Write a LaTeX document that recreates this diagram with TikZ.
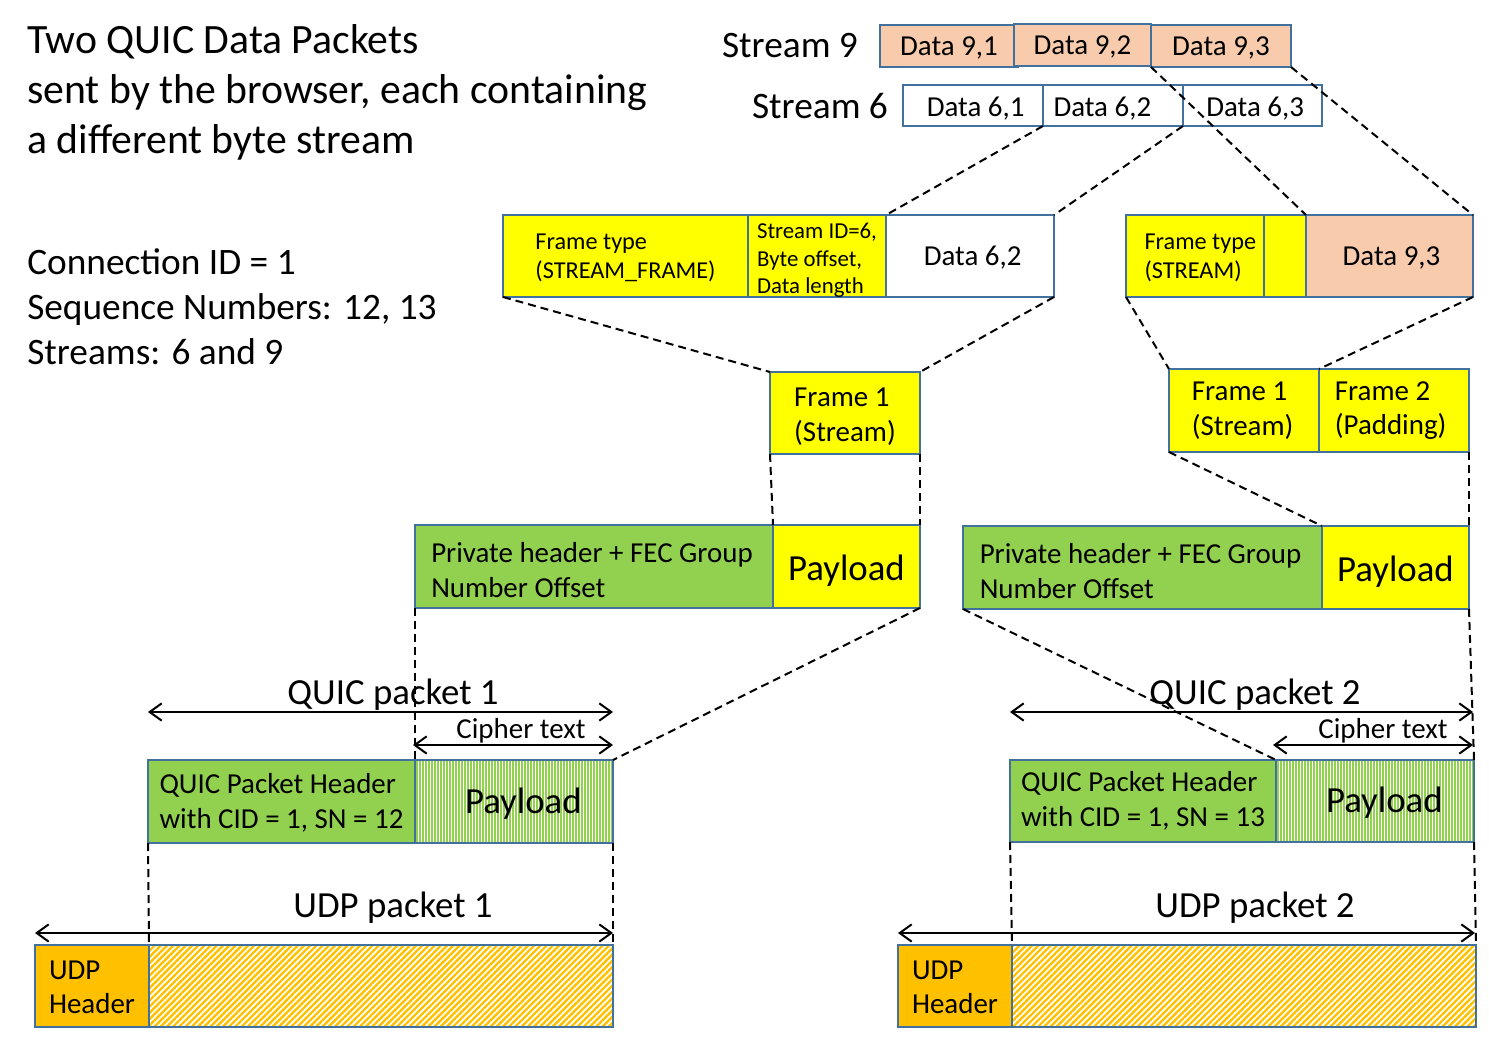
\documentclass[tikz,border=0pt]{standalone}
\usepackage{fontspec}
\setmainfont{Carlito}
\usetikzlibrary{arrows.meta,patterns.meta}
\definecolor{peach}{HTML}{F8CBAD}
\definecolor{qgreen}{HTML}{92D050}
\definecolor{qyellow}{HTML}{FFFF00}
\definecolor{qorange}{HTML}{FFC000}
\definecolor{edge}{HTML}{41719C}
\newcommand\sztitle{\fontsize{31.3pt}{37.5pt}\selectfont}
\newcommand\szbody{\fontsize{28pt}{33.75pt}\selectfont}
\newcommand\szbig{\fontsize{27.6pt}{33pt}\selectfont}
\newcommand\szmid{\fontsize{21.7pt}{26.1pt}\selectfont}
\newcommand\szsmall{\fontsize{18.2pt}{21.8pt}\selectfont}
\newcommand\sztiny{\fontsize{17.1pt}{20.7pt}\selectfont}
% \pbox{name}{x1}{y1}{x2}{y2}{box style}{text style}{text}
\newcommand\pbox[8]{%
  \node[pktbox,#6,minimum width={(#4-#2)*0.75pt},minimum height={(#5-#3)*0.75pt}] (#1) at ({(#2+#4)/2},{(#3+#5)/2}) {};
  \node[boxtext,#7] (#1t) at (#1.center) {#8};}
\tikzset{
  pktbox/.style={draw=edge, line width=0.8pt, inner sep=0pt, outer sep=0pt},
  boxtext/.style={inner sep=0pt, align=left, text=black},
  conn/.style={line width=1.5pt, dash pattern=on 6pt off 3.75pt},
  dimarrow/.style={line width=1.5pt, {Straight Barb[length=9pt,width=13pt]}-{Straight Barb[length=9pt,width=13pt]}},
  lbl/.style={inner sep=0pt, anchor=base},
  vstripe/.style={pattern={Lines[angle=90,distance=2.25pt,line width=1.25pt]}, pattern color=qgreen},
  dstripe/.style={pattern={Lines[angle=45,distance=3.3pt,line width=1.8pt]}, pattern color=qorange}
}
\begin{document}
\begin{tikzpicture}[x=0.75pt,y=-0.75pt]
\useasboundingbox (0,0) rectangle (1489,1038);

% left texts
\node[anchor=west, align=left, inner sep=0pt, font=\sztitle] (title) at (27,92)
  {Two QUIC Data Packets\\sent by the browser, each containing\\a different byte stream};
\node[anchor=west, align=left, inner sep=0pt, font=\szbody] (info) at (27,307)
  {Connection ID = 1\\Sequence Numbers: 12, 13\\Streams: 6 and 9};

% streams
\node[lbl, font=\szbody] (s9lbl) at (790,58) {Stream 9};
\node[lbl, font=\szbody] (s6lbl) at (820,119) {Stream 6};
\pbox{s9a}{880}{25}{1018}{67}{fill=peach}{font=\szmid,yshift=-1.5pt}{Data 9,1}
\pbox{s9b}{1014}{24}{1151}{66}{fill=peach}{font=\szmid,yshift=-1.5pt}{Data 9,2}
\pbox{s9c}{1151}{25}{1291}{67}{fill=peach}{font=\szmid,yshift=-1.5pt}{Data 9,3}
\pbox{s6a}{903}{85}{1043}{126}{fill=white}{font=\szmid,yshift=-2.2pt,xshift=2pt}{Data 6,1}
\pbox{s6b}{1043}{85}{1183}{126}{fill=white}{font=\szmid,yshift=-2.2pt,xshift=-8pt}{Data 6,2}
\pbox{s6c}{1183}{85}{1322}{126}{fill=white}{font=\szmid,yshift=-2.2pt,xshift=2pt}{Data 6,3}

% stream frames
\pbox{fl1}{503}{215}{748}{297}{fill=qyellow}{font=\szsmall,yshift=-1.5pt}{Frame type\\(STREAM\_FRAME)}
\pbox{fl2}{748}{215}{886}{297}{fill=qyellow}{font=\sztiny,yshift=-3.4pt}{Stream ID=6,\\Byte offset,\\Data length}
\pbox{fl3}{886}{215}{1054}{297}{fill=white}{font=\szmid,yshift=-1.5pt,xshift=2pt}{Data 6,2}
\pbox{fr1}{1126}{215}{1264}{297}{fill=qyellow}{font=\szsmall,yshift=-1.5pt,xshift=4pt}{Frame type\\(STREAM)}
\pbox{fr2}{1264}{215}{1306}{297}{fill=qyellow}{}{}
\pbox{fr3}{1306}{215}{1473}{297}{fill=peach}{font=\szmid,yshift=-1.5pt,xshift=1.5pt}{Data 9,3}

% frames in payload
\pbox{f1l}{770}{372}{920}{454}{fill=qyellow}{font=\szmid,yshift=-3pt}{Frame 1\\(Stream)}
\pbox{f1r}{1169}{369}{1319}{452}{fill=qyellow}{font=\szmid,xshift=-1pt}{Frame 1\\(Stream)}
\pbox{f2r}{1319}{369}{1469}{452}{fill=qyellow}{font=\szmid,xshift=-2.5pt}{Frame 2\\(Padding)}

% private header + payload
\pbox{phl}{415}{525}{773}{608}{fill=qgreen}{font=\szmid,yshift=-2.6pt,xshift=-1.5pt}{Private header + FEC Group\\Number Offset}
\pbox{pll}{773}{525}{920}{608}{fill=qyellow}{font=\szbig,yshift=-3pt}{Payload}
\pbox{phr}{963}{526}{1322}{609}{fill=qgreen}{font=\szmid,yshift=-2.6pt,xshift=-1.5pt}{Private header + FEC Group\\Number Offset}
\pbox{plr}{1322}{526}{1469}{609}{fill=qyellow}{font=\szbig,yshift=-3pt}{Payload}

% QUIC packets
\pbox{qhl}{148}{760}{415}{843}{fill=qgreen}{font=\szmid,yshift=-1.2pt}{QUIC Packet Header\\with CID = 1, SN = 12}
\pbox{qpl}{415}{760}{613}{843}{vstripe}{font=\szbig,yshift=-1.5pt,xshift=7pt}{Payload}
\pbox{qhr}{1010}{760}{1276}{842}{fill=qgreen}{font=\szmid}{QUIC Packet Header\\with CID = 1, SN = 13}
\pbox{qpr}{1276}{760}{1474}{842}{vstripe}{font=\szbig,yshift=-1.5pt,xshift=7pt}{Payload}

% UDP packets
\pbox{uhl}{35}{945}{149}{1027}{fill=qorange}{font=\szmid,yshift=-1pt}{UDP\\Header}
\pbox{upl}{149}{945}{613}{1027}{dstripe}{}{}
\pbox{uhr}{898}{945}{1012}{1027}{fill=qorange}{font=\szmid,yshift=-1pt}{UDP\\Header}
\pbox{upr}{1012}{945}{1476}{1027}{dstripe}{}{}

% labels
\node[lbl, font=\szbig] (q1lbl) at (393,704) {QUIC packet 1};
\node[lbl, font=\szmid] (c1lbl) at (521,738) {Cipher text};
\node[lbl, font=\szbig] (u1lbl) at (393,917) {UDP packet 1};
\node[lbl, font=\szbig] (q2lbl) at (1255,704) {QUIC packet 2};
\node[lbl, font=\szmid] (c2lbl) at (1383,738) {Cipher text};
\node[lbl, font=\szbig] (u2lbl) at (1255,917) {UDP packet 2};

% dimension arrows
\coordinate (q1a) at (148,712); \coordinate (q1b) at (613,712);
\coordinate (c1a) at (413,745); \coordinate (c1b) at (613,745);
\coordinate (u1a) at (35,933);  \coordinate (u1b) at (613,933);
\coordinate (q2a) at (1010,712); \coordinate (q2b) at (1473,712);
\coordinate (c2a) at (1273,745); \coordinate (c2b) at (1473,745);
\coordinate (u2a) at (898,933);  \coordinate (u2b) at (1475,933);
\draw[dimarrow] (q1a) -- (q1b);
\draw[dimarrow] (c1a) -- (c1b);
\draw[dimarrow] (u1a) -- (u1b);
\draw[dimarrow] (q2a) -- (q2b);
\draw[dimarrow] (c2a) -- (c2b);
\draw[dimarrow] (u2a) -- (u2b);

% dashed connectors
\draw[conn] (s6b.south west) -- (fl3.north west);
\draw[conn] (s6c.south west) -- (fl3.north east);
\draw[conn] (s9c.south west) -- (fr3.north west);
\draw[conn] (s9c.south east) -- (fr3.north east);
\draw[conn] (fl1.south west) -- (f1l.north west);
\draw[conn] (fl3.south east) -- (f1l.north east);
\draw[conn] (fr1.south west) -- (f1r.north west);
\draw[conn] (fr3.south east) -- (f2r.north west);
\draw[conn] (f1l.south west) -- (pll.north west);
\draw[conn] (f1l.south east) -- (pll.north east);
\draw[conn] (f1r.south west) -- (plr.north west);
\draw[conn] (f2r.south east) -- (plr.north east);
\draw[conn] (phl.south west) -- (qpl.north west);
\draw[conn] (pll.south east) -- (qpl.north east);
\draw[conn] (phr.south west) -- (qpr.north west);
\draw[conn] (plr.south east) -- (qpr.north east);
\draw[conn] (qhl.south west) -- (upl.north west);
\draw[conn] (qpl.south east) -- (upl.north east);
\draw[conn] (qhr.south west) -- (upr.north west);
\draw[conn] (qpr.south east) -- (upr.north east);
\end{tikzpicture}
\end{document}
